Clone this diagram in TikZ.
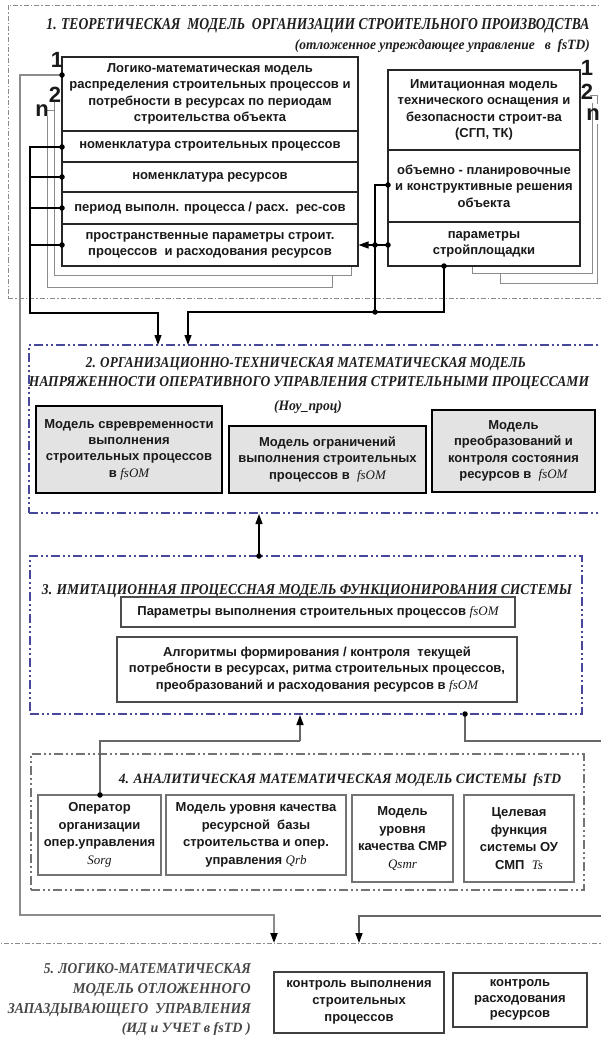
\documentclass[tikz,border=0pt]{standalone}
\usepackage{fontspec}
\setmainfont{Liberation Serif}
\newfontfamily\bxfont{Liberation Sans}
\usetikzlibrary{arrows.meta}
\definecolor{frblue}{RGB}{72,72,155}
\newcommand{\ttlfit}[3]{\resizebox{#1pt}{#2pt}{\rmfamily\bfseries\itshape #3}}
\newcommand{\mi}[1]{{\rmfamily\itshape\mdseries #1}}
\newcommand{\mybox}[7]{%
  \pgfmathsetmacro{\bw}{#5-#3}%
  \pgfmathsetmacro{\bh}{#6-#4}%
  \node[#1, minimum width=\bw pt, minimum height=\bh pt] (#2) at ({(#3+#5)/2},{(#4+#6)/2}) {#7};}
\tikzset{
  bx/.style={draw=black!85, line width=1.1pt, inner sep=1pt, align=center,
    font=\bxfont\bfseries\fontsize{13}{16.3}\selectfont, text=black!90},
  bxg/.style={bx, fill=black!11, draw=black, line width=1.6pt},
  bx3/.style={bx, draw=black!70, line width=1.8pt},
  bx4/.style={bx, draw=black!55, line width=1.3pt, font=\bxfont\bfseries\fontsize{13}{17.5}\selectfont},
  bx5/.style={bx, draw=black!75, line width=1.6pt, font=\bxfont\bfseries\fontsize{13}{17}\selectfont},
  fr1/.style={draw=black!45, line width=0.8pt, dash pattern=on 5pt off 2pt on 1.5pt off 2pt},
  frb/.style={draw=frblue, line width=1.6pt, dash pattern=on 9pt off 3pt on 2pt off 3pt on 2pt off 3pt},
  fr4/.style={draw=black!55, line width=1.6pt, dash pattern=on 9pt off 3pt on 2pt off 3pt on 2pt off 3pt},
  fr5/.style={draw=black!45, line width=1pt, dash pattern=on 5pt off 2pt on 1.5pt off 2pt},
  shd/.style={draw=black!45, line width=0.8pt},
  gline/.style={draw=black!45, line width=2pt},
  bline/.style={draw=black, line width=1.2pt},
  dline/.style={draw=black!60, line width=1.5pt},
  arr/.style={-{Triangle[length=10pt,width=7pt,color=black]}},
  dot/.style={circle, fill=black, inner sep=0pt, minimum size=5.5pt},
  num/.style={font=\bxfont\bfseries\fontsize{22}{22}\selectfont, inner sep=0pt, text=black!90},
  ttl/.style={inner sep=0pt, text=black!88},
}
\begin{document}
\begin{tikzpicture}[x=1pt,y=-1pt]
\useasboundingbox[fill=white] (0,0) rectangle (600,1043);

% ---------- frames ----------
\mybox{fr1}{F1}{8}{5}{612}{298}{}
\mybox{frb}{F2}{29}{345}{612}{513}{}
\mybox{frb}{F3}{30}{556}{582}{714}{}
\mybox{fr4}{F4}{31}{754}{584}{890}{}
\mybox{fr5}{F5}{-12}{943}{612}{1060}{}

% ---------- titles ----------
\node[ttl, anchor=base] (t1) at (318,30) {\ttlfit{543}{11}{1. ТЕОРЕТИЧЕСКАЯ \ МОДЕЛЬ \ ОРГАНИЗАЦИИ СТРОИТЕЛЬНОГО ПРОИЗВОДСТВА}};
\node[ttl, anchor=base east] (t1b) at (590,50) {\ttlfit{295}{10}{(отложенное упреждающее управление \ \ в \ fsTD)}};
\node[ttl, anchor=base] (t2a) at (306,367) {\ttlfit{440}{10}{2. ОРГАНИЗАЦИОННО-ТЕХНИЧЕСКАЯ МАТЕМАТИЧЕСКАЯ МОДЕЛЬ}};
\node[ttl, anchor=base] (t2b) at (309,386) {\ttlfit{560}{10}{НАПРЯЖЕННОСТИ ОПЕРАТИВНОГО УПРАВЛЕНИЯ СТРИТЕЛЬНЫМИ ПРОЦЕССАМИ}};
\node[ttl, anchor=base] (t2c) at (308,410) {\ttlfit{68}{10}{(Ноу\_проц)}};
\node[ttl, anchor=base] (t3) at (307,594) {\ttlfit{530}{10}{3. ИМИТАЦИОННАЯ ПРОЦЕССНАЯ МОДЕЛЬ ФУНКЦИОНИРОВАНИЯ СИСТЕМЫ}};
\node[ttl, anchor=base] (t4) at (340,783) {\ttlfit{442}{10}{4. АНАЛИТИЧЕСКАЯ МАТЕМАТИЧЕСКАЯ МОДЕЛЬ СИСТЕМЫ \ fsTD}};
\node[ttl, text=black!72, anchor=base east] (t5a) at (251,973) {\ttlfit{207}{10}{5. ЛОГИКО-МАТЕМАТИЧЕСКАЯ}};
\node[ttl, text=black!72, anchor=base east] (t5b) at (251,993) {\ttlfit{178}{10}{МОДЕЛЬ ОТЛОЖЕННОГО}};
\node[ttl, text=black!72, anchor=base east] (t5c) at (251,1013) {\ttlfit{243}{10}{ЗАПАЗДЫВАЮЩЕГО \ УПРАВЛЕНИЯ}};
\node[ttl, text=black!72, anchor=base east] (t5d) at (251,1032) {\ttlfit{129}{10}{(ИД и УЧЕТ в fsTD )}};

% ---------- section 1: stacked shadows ----------
\draw[shd] (54,102) -- (54,275) -- (351,275) -- (351,266);
\draw[shd] (47,110) -- (54,110);
\draw[shd] (47,116) -- (47,287) -- (332,287) -- (332,275);
\draw[shd] (592,103) -- (592,273) -- (472,273) -- (472,266);
\draw[shd] (590,95) -- (597,95) -- (597,104);
\draw[shd] (597,124) -- (597,283) -- (500,283) -- (500,273);

% ---------- section 1 boxes ----------
\mybox{bx, fill=white}{L0}{62}{57}{358}{131}{Логико-математическая модель\\распределения строительных процессов и\\потребности в ресурсах по периодам\\строительства объекта}
\mybox{bx, fill=white}{L1}{62}{131}{358}{162}{номенклатура строительных процессов}
\mybox{bx, fill=white}{L2}{62}{162}{358}{192}{номенклатура ресурсов}
\mybox{bx, fill=white}{L3}{62}{192}{358}{224}{период выполн. процесса / расх.~~рес-сов}
\mybox{bx, fill=white}{L4}{62}{224}{358}{266}{пространственные параметры строит.\\процессов~~и расходования ресурсов}
\mybox{bx, fill=white}{R0}{388}{70}{580}{150}{Имитационная модель\\технического оснащения и\\безопасности строит-ва\\(СГП, ТК)}
\mybox{bx, fill=white}{R1}{388}{150}{580}{222}{объемно - планировочные\\и конструктивные решения\\объекта}
\mybox{bx, fill=white}{R2}{388}{222}{580}{266}{параметры\\стройплощадки}

\node[num] (n1L) at (57,60) {1};
\node[num] (n2L) at (55,95) {2};
\node[num] (nnL) at (42,111) {n};
\node[num] (n1R) at (587,68) {1};
\node[num] (n2R) at (587,92) {2};
\node[num] (nnR) at (593,115) {n};

% ---------- section 2 boxes ----------
\mybox{bxg}{A2}{36}{406}{222}{493}{Модель свревременности\\выполнения\\строительных процессов\\в \mi{fsOM}}
\mybox{bxg}{B2}{229}{426}{426}{493}{Модель ограничений\\выполнения строительных\\процессов в~~\mi{fsOM}}
\mybox{bxg}{C2}{432}{410}{595}{492}{Модель\\преобразований и\\контроля состояния\\ресурсов в~~\mi{fsOM}}

% ---------- section 3 boxes ----------
\mybox{bx3}{P3}{121}{597}{515}{627}{Параметры выполнения строительных процессов \mi{fsOM}}
\mybox{bx3}{G3}{117}{637}{517}{702}{Алгоритмы формирования / контроля~~текущей\\потребности в ресурсах, ритма строительных процессов,\\преобразований и расходования ресурсов в \mi{fsOM}}

% ---------- section 4 boxes ----------
\mybox{bx4}{O4}{38}{795}{161}{875}{Оператор\\организации\\опер.управления\\\mi{Sorg}}
\mybox{bx4}{Q4}{166}{795}{346}{875}{Модель уровня качества\\ресурсной~~базы\\строительства и опер.\\управления \mi{Qrb}}
\mybox{bx4}{M4}{352}{795}{453}{882}{Модель\\уровня\\качества СМР\\\mi{Qsmr}}
\mybox{bx4}{T4}{464}{795}{574}{882}{Целевая\\функция\\системы ОУ\\СМП~~\mi{Ts}}

% ---------- section 5 boxes ----------
\mybox{bx5}{K1}{274}{972}{444}{1033}{контроль выполнения\\строительных\\процессов}
\mybox{bx5, font=\bxfont\bfseries\fontsize{13}{15.5}\selectfont}{K2}{453}{973}{587}{1027}{контроль\\расходования\\ресурсов}

% ---------- coordinates ----------
\coordinate (cA) at (20,915);
\coordinate (inS5a) at (274,943);
\coordinate (cB) at (30,313);
\coordinate (inS2a) at (158,345);
\coordinate (inS2b) at (188,345);
\coordinate (s2b) at (259,514);
\coordinate (s3b) at (300,715);
\coordinate (k34) at (300,741);
\coordinate (e1) at (612,741);
\coordinate (e2) at (612,916);
\coordinate (inS5b) at (359,943);
\coordinate (pA) at (62,75);
\coordinate (p1) at (62,147);
\coordinate (p2) at (62,177);
\coordinate (p3) at (62,208);
\coordinate (p4) at (62,245);
\coordinate (q1) at (388,185);
\coordinate (q2) at (388,245);
\coordinate (q3) at (444,266);
\coordinate (qJ) at (375,312);
\coordinate (q23) at (259,556);
\coordinate (qO) at (100,795);
\coordinate (q3r) at (465,714);

% ---------- connectors ----------
\draw[gline,arr] (pA) -| (cA) -| (inS5a);
\draw[bline,arr] (p1) -| (cB) -| (inS2a);
\draw[bline] (p2) -- (p2 -| cB);
\draw[bline] (p3) -- (p3 -| cB);
\draw[bline] (p4) -- (p4 -| cB);
\draw[bline] (q1) -| (qJ);
\draw[bline,arr] (q2) -- (L4.east);
\draw[bline] (q3) |- (qJ);
\draw[bline,arr] (qJ) -| (inS2b);
\draw[bline,arr] (q23) -- (s2b);
\draw[dline,arr] (k34) -- (s3b);
\draw[dline] (k34) -| (qO);
\draw[dline,arr] (q3r) |- (e1) -- (e2) -| (inS5b);

% ---------- dots ----------
\node[dot] (dA) at (pA) {};
\node[dot] (d1) at (p1) {};
\node[dot] (d2) at (p2) {};
\node[dot] (d3) at (p3) {};
\node[dot] (d4) at (p4) {};
\node[dot] (r1) at (q1) {};
\node[dot] (r2) at (q2) {};
\node[dot] (jR2) at (375,245) {};
\node[dot] (r3) at (q3) {};
\node[dot] (jR) at (qJ) {};
\node[dot] (c23) at (q23) {};
\node[dot] (dO) at (qO) {};
\node[dot] (d3r) at (q3r) {};
\end{tikzpicture}
\end{document}
